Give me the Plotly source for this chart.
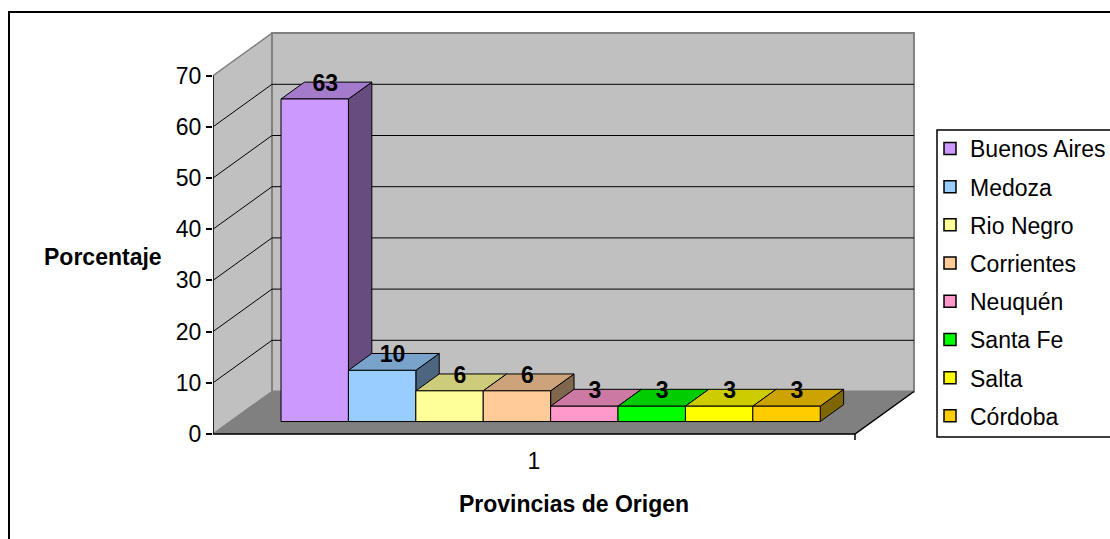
import plotly.graph_objects as go

# ---------------- data ----------------
provinces = ["Buenos Aires", "Medoza", "Rio Negro", "Corrientes",
             "Neuquén", "Santa Fe", "Salta", "Córdoba"]
percent = [63, 10, 6, 6, 3, 3, 3, 3]
front_colors = ["#CC99FF", "#99CCFF", "#FFFF99", "#FFCC99",
                "#FF99CC", "#00FF00", "#FFFF00", "#FFCC00"]
y_ticks = [0, 10, 20, 30, 40, 50, 60, 70]
x_tick_text = ["1"]

# ---------------- style / geometry ----------------
FIG_W, FIG_H = 1110, 539
M_L, M_R, M_T, M_B = 213, 175, 20, 94
PX_PER_X = 67.4          # px per category slot
PX_PER_Y = 5.12          # px per percent unit
Y_ZERO_PX = 434
PLOT_W = FIG_W - M_L - M_R
PLOT_H = FIG_H - M_T - M_B
X_RANGE = [0, PLOT_W / PX_PER_X]
Y_LO = -((FIG_H - M_B) - Y_ZERO_PX) / PX_PER_Y
Y_RANGE = [Y_LO, Y_LO + PLOT_H / PX_PER_Y]

Y_MAX = 70
FLOOR_W = 9.525          # front floor width in slot units
DX, DY = 0.875, 8.3      # depth offset (x slots, y units)
X_START = 0.753          # first bar left edge
D0, D1 = 0.293, 0.69     # bar depth range
LABEL_DX = 0.155
LABEL_DY = -0.6

FONT = "Liberation Sans, Arial, sans-serif"
FS = 23
WALL = "#C0C0C0"
FLOOR = "#808080"
EDGE = "#808080"


def shade(hex_color, f):
    h = hex_color.lstrip("#")
    r, g, b = (int(h[i:i + 2], 16) for i in (0, 2, 4))
    return "#{:02X}{:02X}{:02X}".format(int(r * f), int(g * f), int(b * f))


def px2paper_x(px):
    return (px - M_L) / PLOT_W


def px2paper_y(py):
    return ((FIG_H - M_B) - py) / PLOT_H


def poly(xs, ys, fill, line_color="black", line_width=1):
    return go.Scatter(x=xs + [xs[0]], y=ys + [ys[0]], mode="lines", fill="toself",
                      fillcolor=fill, line=dict(color=line_color, width=line_width),
                      hoverinfo="skip", showlegend=False)


def seg(xs, ys, color, width=1):
    return go.Scatter(x=xs, y=ys, mode="lines", line=dict(color=color, width=width),
                      hoverinfo="skip", showlegend=False)


fig = go.Figure()

# floor
fig.add_trace(poly([0, FLOOR_W, FLOOR_W + DX, DX], [0, 0, DY, DY], FLOOR, FLOOR, 0.5))
# left wall
fig.add_trace(poly([0, DX, DX, 0], [0, DY, Y_MAX + DY, Y_MAX], WALL, EDGE, 1.5))
# back wall
fig.add_trace(poly([DX, FLOOR_W + DX, FLOOR_W + DX, DX],
                   [DY, DY, Y_MAX + DY, Y_MAX + DY], WALL, EDGE, 2))
# gridlines
for v in y_ticks[1:-1]:
    fig.add_trace(seg([0, DX, FLOOR_W + DX], [v, v + DY, v + DY], "black", 1))
# floor edges
fig.add_trace(seg([0, FLOOR_W, FLOOR_W + DX], [0, 0, DY], "black", 1.5))
fig.add_trace(seg([FLOOR_W, FLOOR_W], [0, -6 / PX_PER_Y], "black", 1.5))
# y axis line
fig.add_trace(seg([0, 0], [0, Y_MAX], "black", 1.5))

# bars (side, top, front), painter order left to right
for i, (name, v, c) in enumerate(zip(provinces, percent, front_colors)):
    x0, x1 = X_START + i, X_START + i + 1
    fx0, fx1 = x0 + D0 * DX, x1 + D0 * DX
    bx0, bx1 = x0 + D1 * DX, x1 + D1 * DX
    yb0, yb1 = D0 * DY, D1 * DY
    fig.add_trace(poly([fx1, bx1, bx1, fx1], [yb0, yb1, v + yb1, v + yb0], shade(c, 0.5)))
    fig.add_trace(poly([fx0, fx1, bx1, bx0], [v + yb0, v + yb0, v + yb1, v + yb1], shade(c, 0.8)))
    fig.add_trace(poly([fx0, fx1, fx1, fx0], [yb0, yb0, v + yb0, v + yb0], c))

# value labels
fig.add_trace(go.Scatter(
    x=[X_START + i + 0.5 + D0 * DX + LABEL_DX for i in range(len(percent))],
    y=[v + D1 * DY + LABEL_DY for v in percent],
    mode="text", text=[str(v) for v in percent], textposition="middle center",
    textfont=dict(family=FONT, size=FS, color="black", weight="bold"),
    hoverinfo="skip", showlegend=False))

# legend entries
for i, (name, c) in enumerate(zip(provinces, front_colors)):
    fig.add_trace(go.Scatter(
        x=[None], y=[None], mode="markers", name=name, legendgroup=f"g{i}",
        marker=dict(symbol="square", size=12, color=c, line=dict(color="black", width=1.5))))

fig.update_layout(
    width=FIG_W, height=FIG_H,
    margin=dict(l=M_L, r=M_R, t=M_T, b=M_B, autoexpand=False),
    paper_bgcolor="white", plot_bgcolor="white",
    hovermode=False,
    font=dict(family=FONT, size=FS, color="black"),
    xaxis=dict(range=X_RANGE, showgrid=False, zeroline=False, showline=False,
               tickvals=[FLOOR_W / 2], ticktext=x_tick_text, ticks="",
               tickfont=dict(family=FONT, size=FS),
               title=dict(text="Provincias de Origen", standoff=22,
                          font=dict(family=FONT, size=FS, weight="bold"))),
    yaxis=dict(range=Y_RANGE, showgrid=False, zeroline=False, showline=False,
               tickvals=y_ticks, ticks="outside", ticklen=6, tickwidth=1.5,
               tickcolor="black", tickfont=dict(family=FONT, size=FS)),
    legend=dict(xref="container", yref="container",
                x=930 / FIG_W, y=1 - 127 / FIG_H, xanchor="left", yanchor="top",
                bgcolor="rgba(0,0,0,0)", borderwidth=0, tracegroupgap=5.3,
                maxheight=520, font=dict(family=FONT, size=FS)),
    showlegend=True,
    annotations=[dict(text="<b>Porcentaje</b>", xref="paper", yref="paper",
                      x=px2paper_x(103), y=px2paper_y(257), showarrow=False,
                      xanchor="center", yanchor="middle",
                      font=dict(family=FONT, size=FS))],
    shapes=[
        dict(type="rect", xref="paper", yref="paper",
             x0=px2paper_x(9), y0=px2paper_y(12), x1=px2paper_x(1125), y1=px2paper_y(560),
             line=dict(color="black", width=2), fillcolor="rgba(0,0,0,0)", layer="above"),
        dict(type="rect", xref="paper", yref="paper",
             x0=px2paper_x(937), y0=px2paper_y(130), x1=px2paper_x(1125), y1=px2paper_y(437),
             line=dict(color="black", width=1.5), fillcolor="rgba(0,0,0,0)", layer="above"),
    ],
)

fig.write_html("out.html", config={"displayModeBar": False},
               post_script="document.body.style.margin='0px';"
                           "document.body.style.overflow='hidden';")
